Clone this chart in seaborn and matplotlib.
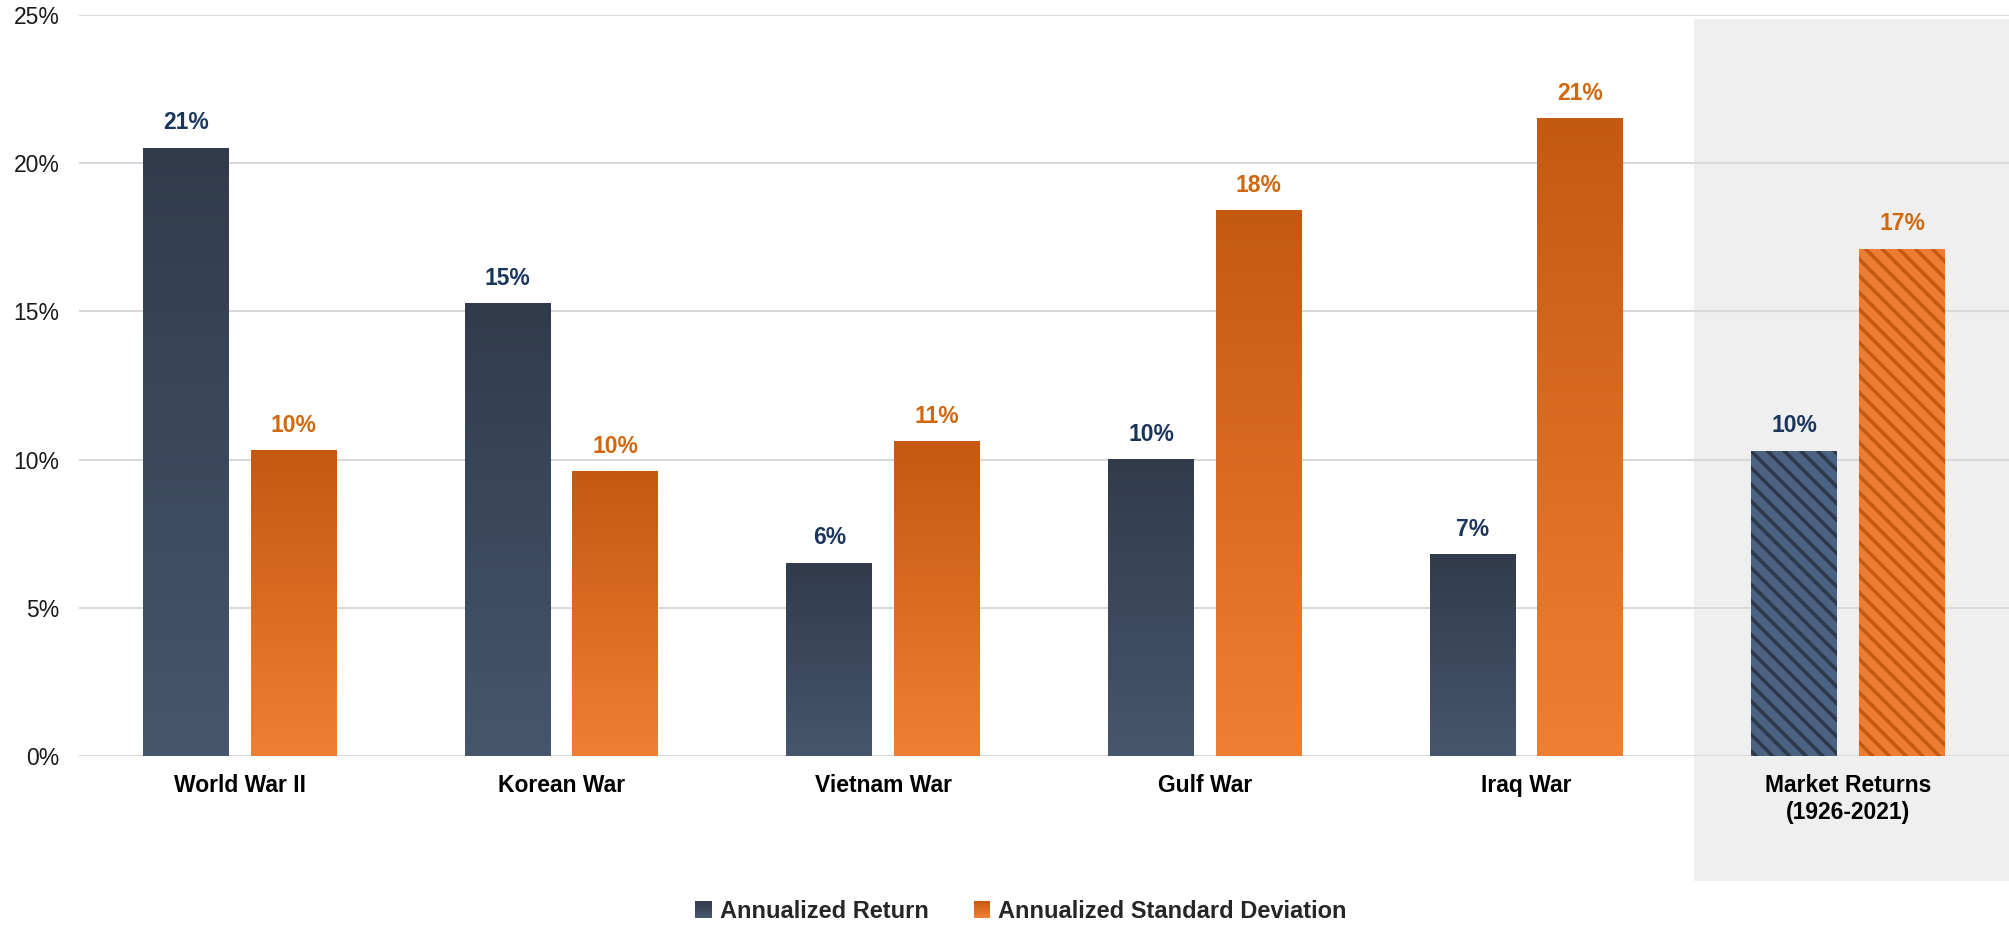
import numpy as np
import pandas as pd
import matplotlib
matplotlib.use('Agg')
import matplotlib.pyplot as plt
import seaborn as sns
from matplotlib.colors import LinearSegmentedColormap, to_rgb
from matplotlib.patches import Rectangle
from matplotlib.legend_handler import HandlerBase
from matplotlib.ticker import PercentFormatter

categories = ['World War II', 'Korean War', 'Vietnam War', 'Gulf War', 'Iraq War',
              'Market Returns\n(1926-2021)']
annual_return = [20.5, 15.25, 6.5, 10.0, 6.8, 10.3]
annual_std = [10.3, 9.6, 10.6, 18.4, 21.5, 17.1]
return_labels = ['21%', '15%', '6%', '10%', '7%', '10%']
std_labels = ['10%', '10%', '11%', '18%', '21%', '17%']
series = ['Annualized Return', 'Annualized Standard Deviation']

df = pd.DataFrame({
    'war': categories * 2,
    'value': annual_return + annual_std,
    'series': [series[0]] * len(categories) + [series[1]] * len(categories),
})

# gradient colours (top, bottom), hatch colours (base, stripe), label colours
dark_grad = ('#313b4c', '#46566d')
orange_grad = ('#c45911', '#ef7f32')
dark_hatch = ('#4b6282', '#2e394a')
orange_hatch = ('#ee7c31', '#c45a12')
label_colors = ['#1b365d', '#d1680f']

sns.set_theme(style='white')
plt.rcParams['font.family'] = ['Liberation Sans', 'DejaVu Sans']
plt.rcParams['hatch.linewidth'] = 2.6

fig = plt.figure(figsize=(20.09, 9.27), dpi=100)
ax = fig.add_axes([79 / 2009, (927 - 756) / 927, 1930 / 2009, 741 / 927])

sns.barplot(data=df, x='war', y='value', hue='series', palette=['#3c4a5e', '#dd6f22'],
            width=0.67, gap=0.203, errorbar=None, saturation=1, legend=False,
            ax=ax, zorder=3)


def gradient_fill(bar, top, bottom):
    x0, y0 = bar.get_x(), bar.get_y()
    w, h = bar.get_width(), bar.get_height()
    cmap = LinearSegmentedColormap.from_list('g', [bottom, top])
    grad = np.linspace(0, 1, 256).reshape(-1, 1)
    ax.imshow(grad, extent=[x0, x0 + w, y0, y0 + h], origin='lower', aspect='auto',
              cmap=cmap, zorder=3.1, interpolation='bilinear')


n = len(categories)
for s, cont in enumerate(ax.containers):
    grad = dark_grad if s == 0 else orange_grad
    hatch = dark_hatch if s == 0 else orange_hatch
    labels = return_labels if s == 0 else std_labels
    for i, bar in enumerate(cont):
        if i == n - 1:
            bar.set_facecolor(hatch[0])
            bar.set_edgecolor(hatch[1])
            bar.set_linewidth(0)
            bar.set_hatch('\\\\')
        else:
            gradient_fill(bar, *grad)
            bar.set_alpha(0)
        ax.annotate(labels[i], (bar.get_x() + bar.get_width() / 2, bar.get_height()),
                    xytext=(0, 10), textcoords='offset points', ha='center', va='bottom',
                    fontsize=16.5, fontweight='bold', color=label_colors[s], zorder=5)

ax.set_xlim(-0.5, n - 0.5)
ax.set_ylim(0, 25)
ax.set_yticks([0, 5, 10, 15, 20, 25])
ax.yaxis.set_major_formatter(PercentFormatter(decimals=0))

# shaded panel behind the market returns group
ax.add_patch(Rectangle((n - 1.48, -125 / 741), 0.98, 1 + 123 / 741 - 0.0027,
                       transform=ax.get_xaxis_transform(), facecolor='#efefef',
                       edgecolor='none', clip_on=False, zorder=0.2))

ax.set_axisbelow(True)
ax.yaxis.grid(True, color='#d9d9d9', linewidth=1.5)
ax.xaxis.grid(False)
for sp in ax.spines.values():
    sp.set_visible(False)
ax.tick_params(axis='both', length=0)
ax.tick_params(axis='y', pad=14, labelsize=16.5, labelcolor='#1a1a1a')
ax.tick_params(axis='x', pad=13, labelsize=16.5, labelcolor='#000000')
for t in ax.get_xticklabels():
    t.set_fontweight('bold')
ax.set_xlabel('')
ax.set_ylabel('')


class GradientHandler(HandlerBase):
    def __init__(self, top, bottom, steps=24):
        super().__init__()
        self.top, self.bottom, self.steps = to_rgb(top), to_rgb(bottom), steps

    def create_artists(self, legend, orig_handle, xdescent, ydescent, width, height,
                       fontsize, trans):
        side = min(width, height)
        x0 = -xdescent + (width - side) / 2
        y0 = -ydescent + (height - side) / 2
        arts = []
        for k in range(self.steps):
            f = k / (self.steps - 1)
            c = tuple(b + (t - b) * f for t, b in zip(self.top, self.bottom))
            arts.append(Rectangle((x0, y0 + k * side / self.steps), side,
                                  side / self.steps * 1.05, facecolor=c, lw=0,
                                  transform=trans))
        return arts


h1 = Rectangle((0, 0), 1, 1)
h2 = Rectangle((0, 0), 1, 1)
fig.legend([h1, h2], series, loc='center', bbox_to_anchor=(1021 / 2009, 16 / 927),
           ncol=2, frameon=False, handlelength=0.7, handleheight=0.7,
           handletextpad=0.35, columnspacing=1.9,
           prop={'weight': 'bold', 'size': 17},
           handler_map={h1: GradientHandler(*dark_grad), h2: GradientHandler(*orange_grad)})

fig.savefig('out.png', dpi=100)
